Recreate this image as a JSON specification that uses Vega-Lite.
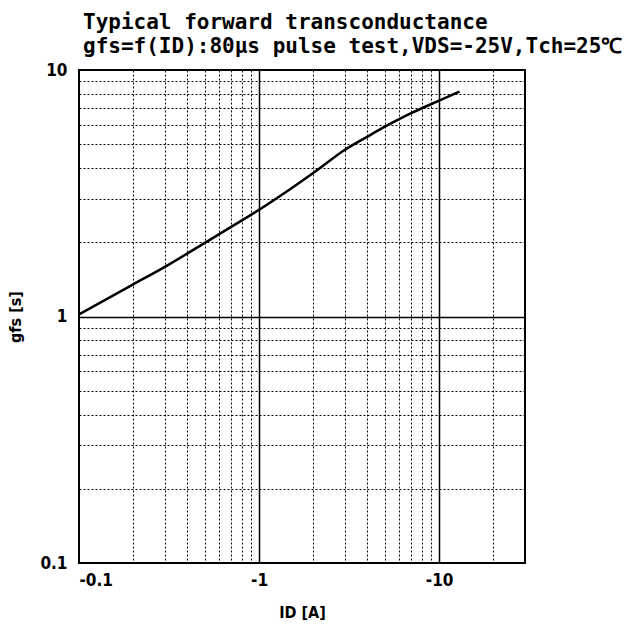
{
  "$schema": "https://vega.github.io/schema/vega-lite/v6.json",
  "autosize": "none",
  "width": 446,
  "height": 493,
  "padding": {"left": 79, "top": 70, "right": 105, "bottom": 62},
  "background": "white",
  "title": {
    "text": ["Typical forward transconductance", "gfs=f(ID):80μs pulse test,VDS=-25V,Tch=25℃"],
    "anchor": "start",
    "frame": "group",
    "font": "DejaVu Sans Mono",
    "fontSize": 21,
    "fontWeight": "bold",
    "lineHeight": 24,
    "color": "black",
    "offset": 4,
    "dx": 4
  },
  "config": {
    "view": {"stroke": "black", "strokeWidth": 2},
    "axis": {
      "labelFont": "DejaVu Sans Condensed",
      "labelFontWeight": "bold",
      "labelFontSize": 17,
      "labelColor": "black",
      "titleFont": "DejaVu Sans Condensed",
      "titleFontWeight": "bold",
      "titleFontSize": 16,
      "titleColor": "black",
      "ticks": false,
      "domain": false,
      "gridColor": "black",
      "gridOpacity": 1
    }
  },
  "data": {
    "values": [
      {"ID": -0.1, "gfs": 1.02},
      {"ID": -0.2, "gfs": 1.35},
      {"ID": -0.3, "gfs": 1.59},
      {"ID": -0.5, "gfs": 1.99},
      {"ID": -0.7, "gfs": 2.31},
      {"ID": -1.0, "gfs": 2.71},
      {"ID": -1.5, "gfs": 3.3},
      {"ID": -2.0, "gfs": 3.82},
      {"ID": -3.0, "gfs": 4.75},
      {"ID": -4.0, "gfs": 5.37},
      {"ID": -5.0, "gfs": 5.89},
      {"ID": -6.0, "gfs": 6.32},
      {"ID": -7.0, "gfs": 6.68},
      {"ID": -10.0, "gfs": 7.51},
      {"ID": -13.0, "gfs": 8.17}
    ]
  },
  "mark": {"type": "line", "color": "black", "strokeWidth": 2.5, "clip": true, "interpolate": "monotone"},
  "encoding": {
    "x": {
      "field": "ID",
      "type": "quantitative",
      "scale": {"type": "log", "domain": [-0.1, -30], "nice": false},
      "axis": {
        "title": "ID [A]",
        "titlePadding": 16,
        "labelPadding": 9,
        "values": [-0.1, -0.2, -0.3, -0.4, -0.5, -0.6, -0.7, -0.8, -0.9, -1, -2, -3, -4, -5, -6, -7, -8, -9, -10, -20, -30],
        "labelExpr": "datum.value == -0.1 ? '-0.1' : datum.value == -1 ? '-1' : datum.value == -10 ? '-10' : ''",
        "labelOverlap": false,
        "grid": true,
        "gridDash": {"condition": {"test": "datum.value == -1 || datum.value == -10", "value": []}, "value": [2, 2]},
        "gridWidth": {"condition": {"test": "datum.value == -1 || datum.value == -10", "value": 1.5}, "value": 1}
      }
    },
    "y": {
      "field": "gfs",
      "type": "quantitative",
      "scale": {"type": "log", "domain": [0.1, 10], "nice": false},
      "axis": {
        "title": "gfs [s]",
        "titlePadding": 16,
        "labelPadding": 12,
        "values": [0.1, 0.2, 0.3, 0.4, 0.5, 0.6, 0.7, 0.8, 0.9, 1, 2, 3, 4, 5, 6, 7, 8, 9, 10],
        "labelExpr": "datum.value == 0.1 ? '0.1' : datum.value == 1 ? '1' : datum.value == 10 ? '10' : ''",
        "labelOverlap": false,
        "grid": true,
        "gridDash": {"condition": {"test": "datum.value == 1", "value": []}, "value": [2, 2]},
        "gridWidth": {"condition": {"test": "datum.value == 1", "value": 1.5}, "value": 1}
      }
    }
  }
}
